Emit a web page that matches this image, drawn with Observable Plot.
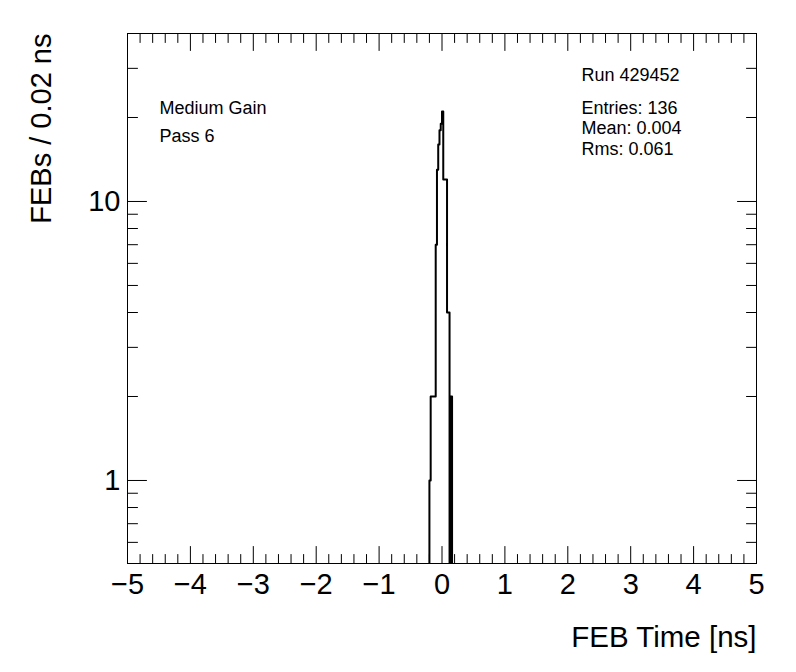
<!DOCTYPE html>
<html><head><meta charset="utf-8">
<script src="https://cdn.jsdelivr.net/npm/d3@7"></script>
<script src="https://cdn.jsdelivr.net/npm/@observablehq/plot@0.6"></script>
<style>html,body{margin:0;padding:0;background:#fff;} svg{display:block}</style>
</head><body><div id="chart"></div>
<script>
// Histogram bins (low edges, ns) and counts
const binLowEdges = [-0.20,-0.18,-0.16,-0.14,-0.12,-0.10,-0.08,-0.06,-0.04,-0.02,0.00,0.02,0.04,0.06,0.08,0.10,0.12,0.14];
const binCounts   = [1,    2,    2,    2,    2,    7,    13,   16,   18,   19,   21,  12,  12,  12,  4,   4,   0,   2];
const binWidth = 0.02;

const xDomain = [-5, 5];
const yDomain = [0.504, 40];
const xMajorTicks = [-5,-4,-3,-2,-1,0,1,2,3,4,5];
const yMajorTicks = [1, 10];
const yMinorTicks = [0.6,0.7,0.8,0.9,2,3,4,5,6,7,8,9,20,30];
const leftLabels = ["Medium Gain", "Pass 6"];
const runLabel = "Run 429452";
const statsLines = ["Entries: 136", "Mean: 0.004", "Rms: 0.061"];
const xTitle = "FEB Time [ns]";
const yTitle = "FEBs / 0.02 ns";

const xMinorTicks = d3.range(-25, 26).filter(i => i % 5 !== 0).map(i => i * 0.2);

// outline vertices of the step histogram (zero bins sit on the frame floor, as in a log plot)
const outline = [{x: binLowEdges[0], y: yDomain[0]}];
binLowEdges.forEach((x0, i) => {
  const v = binCounts[i] > 0 ? binCounts[i] : yDomain[0];
  outline.push({x: x0, y: v}, {x: x0 + binWidth, y: v});
});
outline.push({x: binLowEdges[binLowEdges.length - 1] + binWidth, y: yDomain[0]});

const tickShape = {draw(context, l) { context.moveTo(0, 0); context.lineTo(0, -l); }};
const tick = (data, chan, frameAnchor, rotate, length) =>
  Plot.vector(data, {[chan]: d => d, frameAnchor, rotate, length, anchor: "start", shape: tickShape, stroke: "black", strokeWidth: 1});

const fmt = d => d < 0 ? "\u2212" + Math.abs(d) : String(d);
const FONT = "'Liberation Sans', Arial, Helvetica, sans-serif";

const chart = Plot.plot({
  width: 796, height: 672,
  marginLeft: 127, marginRight: 40, marginTop: 33, marginBottom: 109,
  style: {fontFamily: FONT, background: "white", color: "black"},
  x: {domain: xDomain, label: null},
  y: {type: "log", domain: yDomain, label: null},
  marks: [
    Plot.frame({stroke: "black", strokeWidth: 1}),
    tick(xMajorTicks, "x", "bottom", 0, 17),
    tick(xMinorTicks, "x", "bottom", 0, 9),
    tick(xMajorTicks, "x", "top", 180, 17),
    tick(xMinorTicks, "x", "top", 180, 9),
    tick(yMajorTicks, "y", "left", 90, 19),
    tick(yMinorTicks, "y", "left", 90, 10),
    tick(yMajorTicks, "y", "right", -90, 19),
    tick(yMinorTicks, "y", "right", -90, 10),
    Plot.axisX({ticks: xMajorTicks, tickFormat: fmt, tickSize: 0, tickPadding: 10, fontSize: 29, label: null}),
    Plot.axisY({ticks: yMajorTicks, tickFormat: fmt, tickSize: 0, tickPadding: 7, fontSize: 29, label: null}),
    Plot.line(outline, {x: "x", y: "y", stroke: "black", strokeWidth: 2, clip: true}),
    Plot.text([xTitle], {text: d => d, frameAnchor: "bottom-right", textAnchor: "end", lineAnchor: "top", dy: 63, fontSize: 29.5}),
    Plot.text([yTitle], {text: d => d, frameAnchor: "top-left", rotate: -90, textAnchor: "end", lineAnchor: "middle", dx: -86, fontSize: 29}),
    Plot.text([leftLabels.join("\n")], {text: d => d, frameAnchor: "top-left", textAnchor: "start", lineAnchor: "top", dx: 32, dy: 60.6, fontSize: 18, lineHeight: 1.556}),
    Plot.text([runLabel], {text: d => d, frameAnchor: "top-left", textAnchor: "start", lineAnchor: "top", dx: 454, dy: 35.2, fontSize: 18}),
    Plot.text([statsLines.join("\n")], {text: d => d, frameAnchor: "top-left", textAnchor: "start", lineAnchor: "top", dx: 454, dy: 65.9, fontSize: 18, lineHeight: 1.14})
  ]
});
document.getElementById("chart").appendChild(chart);
</script>
</body></html>
